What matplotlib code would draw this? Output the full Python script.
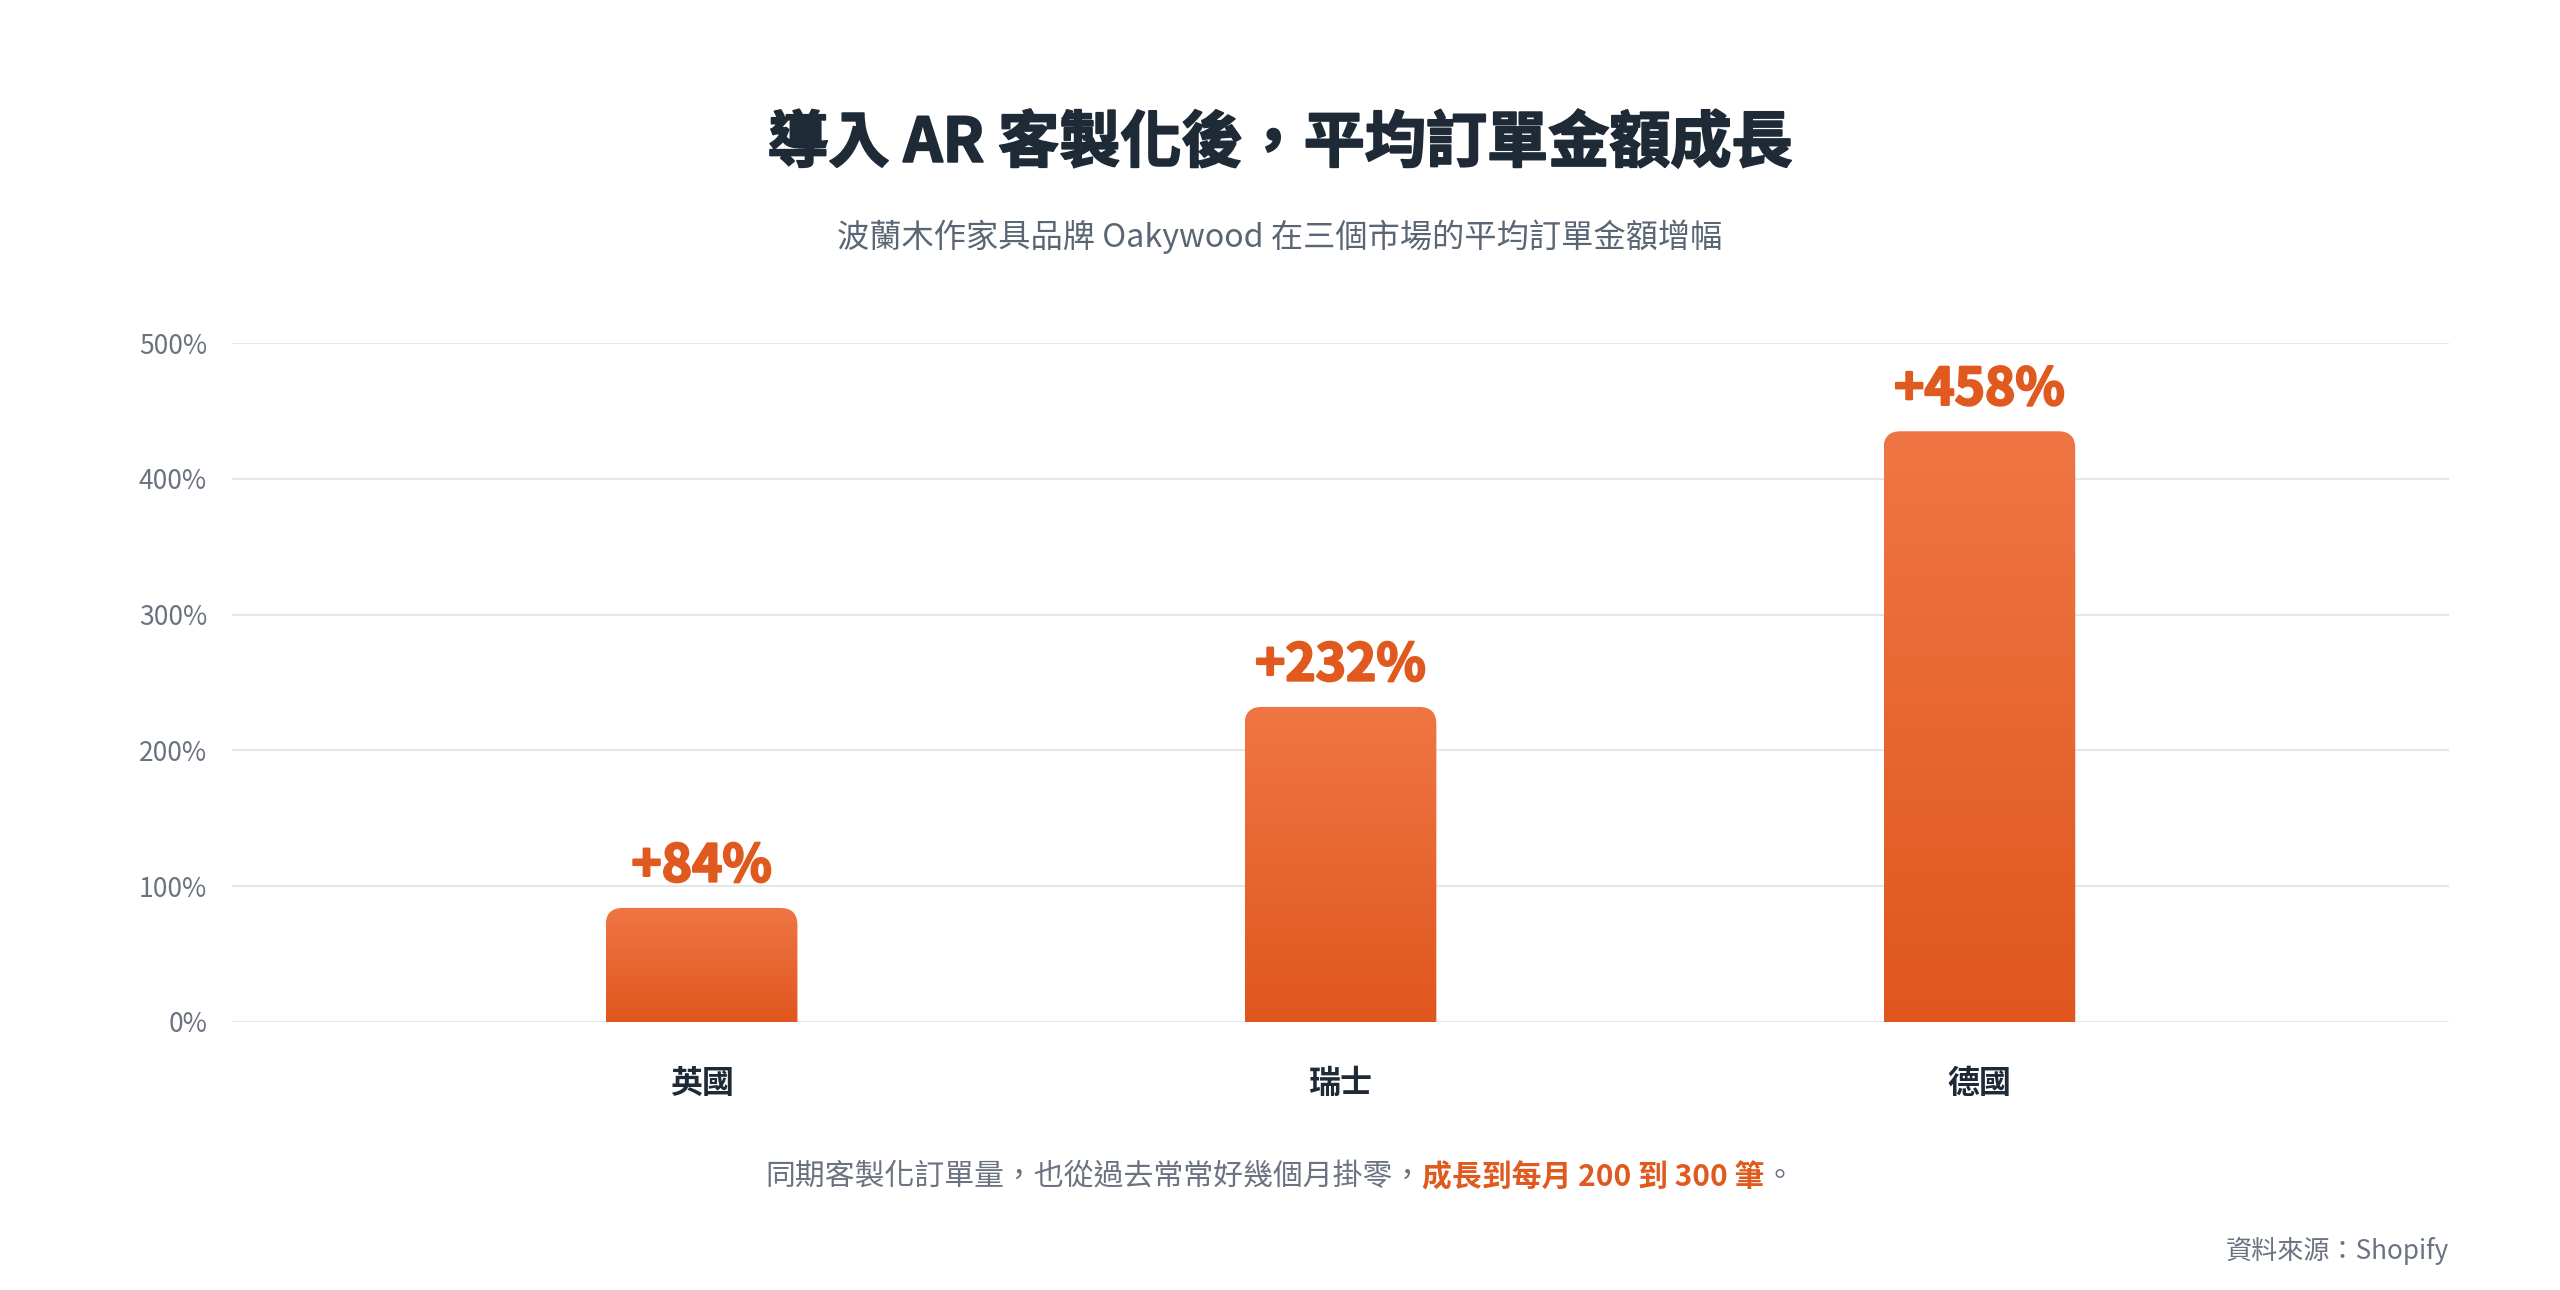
import matplotlib
matplotlib.use('Agg')
import matplotlib.pyplot as plt
import matplotlib.patheffects as pe
import numpy as np
from matplotlib.path import Path
from matplotlib.patches import PathPatch
from matplotlib.colors import LinearSegmentedColormap

plt.rcParams['font.family'] = ['Noto Sans CJK TC', 'DejaVu Sans']

# ---- data ----
categories = ['英國', '瑞士', '德國']
bar_values = [84, 232, 435]          # bar heights as drawn in the picture (%)
value_labels = ['+84%', '+232%', '+458%']
y_ticks = [0, 100, 200, 300, 400, 500]
y_tick_labels = ['0%', '100%', '200%', '300%', '400%', '500%']

title = '導入 AR 客製化後，平均訂單金額成長'
subtitle = '波蘭木作家具品牌 Oakywood 在三個市場的平均訂單金額增幅'
note_plain = '同期客製化訂單量，也從過去常常好幾個月掛零，'
note_bold = '成長到每月 200 到 300 筆'
note_end = '。'
source = '資料來源：Shopify'

# ---- style ----
ORANGE = '#E05A1F'
DARK = '#1F2A37'
GRAY = '#6B7280'
GRID = '#E5E7EB'
grad_cmap = LinearSegmentedColormap.from_list('g', ['#E0561E', '#EF7644'])

W, H = 2560, 1290
fig = plt.figure(figsize=(W / 100, H / 100), dpi=100)
fig.patch.set_facecolor('white')
ax_rect = [232 / W, (H - 1022) / H, (2449 - 232) / W, (1022 - 343) / H]
ax = fig.add_axes(ax_rect)

x = np.arange(len(categories))
bars = ax.bar(x, bar_values, width=0.30, color='none', edgecolor='none', zorder=3)
xlim = (-0.735, 2.735)
ylim = (0, 500)
ax.set_xlim(*xlim)
ax.set_ylim(*ylim)

# corner radius in data units (≈17 px)
px_per_x = ax_rect[2] * W / (xlim[1] - xlim[0])
px_per_y = ax_rect[3] * H / (ylim[1] - ylim[0])
rpx = 17
rx, ry = rpx / px_per_x, rpx / px_per_y

grad = np.linspace(0, 1, 256).reshape(-1, 1)
for b in bars:
    x0, w, h = b.get_x(), b.get_width(), b.get_height()
    x1 = x0 + w
    verts = [(x0, 0), (x0, h - ry), (x0, h), (x0 + rx, h), (x1 - rx, h),
             (x1, h), (x1, h - ry), (x1, 0), (x0, 0)]
    codes = [Path.MOVETO, Path.LINETO, Path.CURVE3, Path.CURVE3, Path.LINETO,
             Path.CURVE3, Path.CURVE3, Path.LINETO, Path.CLOSEPOLY]
    patch = PathPatch(Path(verts, codes), facecolor='none', edgecolor='none', zorder=3)
    ax.add_patch(patch)
    im = ax.imshow(grad, extent=[x0, x1, 0, h], origin='lower', cmap=grad_cmap,
                   aspect='auto', zorder=3, interpolation='bicubic')
    im.set_clip_path(patch)

for b, lab in zip(bars, value_labels):
    ax.annotate(lab, (b.get_x() + b.get_width() / 2, b.get_height()),
                xytext=(0, 19), textcoords='offset points', ha='center',
                va='baseline', fontsize=37, fontweight='bold', color=ORANGE, zorder=4,
                path_effects=[pe.withStroke(linewidth=1.6, foreground=ORANGE)])

ax.set_xlim(*xlim)
ax.set_ylim(*ylim)

ax.set_yticks(y_ticks)
ax.set_yticklabels(y_tick_labels)
ax.set_xticks(x)
ax.set_xticklabels(categories, fontsize=23, fontweight='bold', color=DARK)
ax.tick_params(axis='y', length=0, pad=18, labelsize=19, labelcolor=GRAY)
ax.tick_params(axis='x', length=0, pad=33)
ax.yaxis.grid(True, color=GRID, linewidth=1.5)
ax.set_axisbelow(True)
for s in ax.spines.values():
    s.set_visible(False)

fig.text(0.5, 1 - 144 / H, title, ha='center', va='center', fontsize=44,
         fontweight='bold', color=DARK,
         path_effects=[pe.withStroke(linewidth=1.4, foreground=DARK)])
fig.text(0.5, 1 - 237 / H, subtitle, ha='center', va='center', fontsize=23.2,
         fontweight='medium', color='#5B6675')

# footnote composed of segments
fig.canvas.draw()
r = fig.canvas.get_renderer()
yn = 1 - 1177 / H
parts = [(note_plain, GRAY, 'normal'), (note_bold, ORANGE, 'bold'), (note_end, GRAY, 'normal')]
texts = []
widths = []
for s, c, wgt in parts:
    t = fig.text(0, yn, s, ha='left', va='center', fontsize=21.5, color=c, fontweight=wgt)
    texts.append(t)
    widths.append(t.get_window_extent(renderer=r).width)
total = sum(widths)
cur = (W - total) / 2
for t, wd in zip(texts, widths):
    t.set_x(cur / W)
    cur += wd

fig.text(2449 / W, 1 - 1251 / H, source, ha='right', va='center', fontsize=18.8, color=GRAY)

fig.savefig('out.png', dpi=100, facecolor='white')
